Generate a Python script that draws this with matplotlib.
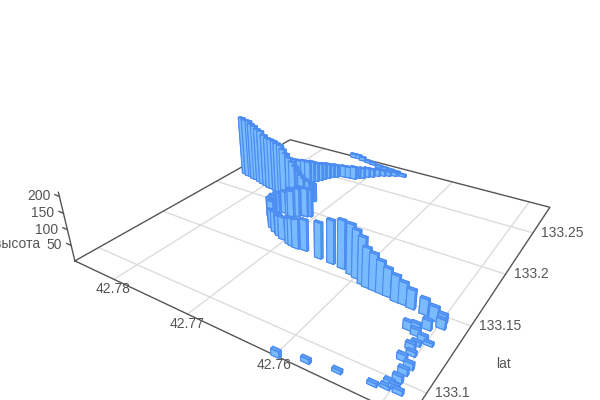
import numpy as np
import matplotlib
matplotlib.use('Agg')
import matplotlib.pyplot as plt
from mpl_toolkits.mplot3d import proj3d

plt.rcParams['font.family'] = ['Liberation Sans', 'DejaVu Sans']

# высота по треку: lon, lat, высота
lon = [42.7843, 42.7836, 42.7830, 42.7824, 42.7819, 42.7812, 42.7805, 42.7798, 42.7791, 42.7786, 42.7779, 42.7773,
       42.7768, 42.7764, 42.7761, 42.7755, 42.7750, 42.7747, 42.7743, 42.7738, 42.7735, 42.7731, 42.7728, 42.7725,
       42.7708, 42.7712, 42.7717, 42.7720, 42.7725, 42.7729, 42.7736, 42.7743, 42.7744, 42.7745, 42.7746, 42.7746,
       42.7738, 42.7728, 42.7720, 42.7714, 42.7711, 42.7704, 42.7692, 42.7692, 42.7687, 42.7681, 42.7671, 42.7650,
       42.7634, 42.7620, 42.7607, 42.7599, 42.7589, 42.7583, 42.7575, 42.7567, 42.7559, 42.7549, 42.7541, 42.7532,
       42.7518, 42.7507, 42.7499, 42.7508, 42.7497, 42.7507, 42.7521, 42.7514, 42.7512, 42.7503, 42.7497, 42.7508,
       42.7506, 42.7504, 42.7508, 42.7499, 42.7500, 42.7500, 42.7504, 42.7494, 42.7499, 42.7599, 42.7574, 42.7546,
       42.7515, 42.7505, 42.7800, 42.7791, 42.7781, 42.7773, 42.7765, 42.7759, 42.7755, 42.7752, 42.7749, 42.7747,
       42.7744, 42.7741, 42.7737, 42.7734, 42.7728, 42.7721, 42.7714, 42.7711, 42.7706, 42.7702, 42.7697, 42.7692,
       42.7686, 42.7680, 42.7673, 42.7668, 42.7662, 42.7748, 42.7740, 42.7732, 42.7722, 42.7713, 42.7702, 42.7692,
       42.7682, 42.7673]
lat = [133.2206, 133.2192, 133.2191, 133.2176, 133.2175, 133.2161, 133.2147, 133.2137, 133.2124, 133.2123, 133.2113, 133.2100,
       133.2099, 133.2097, 133.2107, 133.2094, 133.2093, 133.2103, 133.2102, 133.2101, 133.2111, 133.2110, 133.2120, 133.2130,
       133.1954, 133.1941, 133.1938, 133.1914, 133.1891, 133.1898, 133.1904, 133.1911, 133.1922, 133.1888, 133.1854, 133.1824,
       133.1778, 133.1715, 133.1687, 133.1679, 133.1664, 133.1646, 133.1638, 133.1624, 133.1616, 133.1611, 133.1618, 133.1596,
       133.1590, 133.1581, 133.1558, 133.1544, 133.1514, 133.1503, 133.1500, 133.1497, 133.1494, 133.1479, 133.1479, 133.1472,
       133.1465, 133.1449, 133.1457, 133.1463, 133.1414, 133.1372, 133.1321, 133.1329, 133.1304, 133.1277, 133.1274, 133.1206,
       133.1244, 133.1173, 133.1123, 133.1093, 133.1049, 133.0998, 133.0960, 133.0938, 133.0954, 133.0842, 133.0883, 133.0905,
       133.0922, 133.0936, 133.2408, 133.2383, 133.2359, 133.2349, 133.2338, 133.2340, 133.2355, 133.2382, 133.2410, 133.2438,
       133.2466, 133.2495, 133.2510, 133.2539, 133.2540, 133.2545, 133.2551, 133.2579, 133.2594, 133.2627, 133.2646, 133.2679,
       133.2702, 133.2721, 133.2744, 133.2763, 133.2764, 133.2860, 133.2860, 133.2845, 133.2834, 133.2824, 133.2802, 133.2796,
       133.2790, 133.2784]
height = [207, 206, 206, 201, 197, 192, 192, 183, 179, 178, 178, 177,
          173, 162, 147, 139, 128, 113, 98, 87, 76, 72, 68, 61,
          91, 95, 95, 95, 95, 84, 74, 63, 60, 67, 66, 63,
          69, 61, 68, 67, 67, 74, 77, 87, 90, 96, 99, 114,
          136, 150, 155, 148, 144, 121, 112, 99, 86, 79, 67, 57,
          47, 41, 25, 31, 28, 28, 25, 25, 19, 21, 9, 18,
          12, 12, 18, 18, 18, 18, 15, 12, 12, 18, 12, 9,
          9, 9, 41, 53, 64, 68, 75, 75, 75, 67, 60, 56,
          52, 44, 44, 36, 40, 40, 44, 36, 36, 32, 28, 24,
          20, 16, 12, 8, 8, 13, 13, 13, 8, 8, 8, 8,
          8, 8]

x_ticks = [42.78, 42.77, 42.76]
x_grid = [42.78, 42.77, 42.76, 42.75]
y_ticks = [133.1, 133.15, 133.2, 133.25]
z_ticks = [50, 100, 150, 200]

xmax, xmin = 42.786, 42.7475
ymin, ymax = 133.084, 133.287
ztop = 212
barw, bard = 0.00085, 0.0017

fig = plt.figure(figsize=(6, 4), dpi=100)
a = 2637.06
left, bot = 329.71 - a * 0.095, 400 - 200.89 - a * 0.095
ax = fig.add_axes([left / 600, bot / 400, a * 0.185 / 600, a * 0.185 / 400], projection='3d')
ax.computed_zorder = False
ax.set_axis_off()
ax.set_xlim(xmax, xmin)
ax.set_ylim(ymin, ymax)
ax.set_zlim(0, 210)
ax.view_init(elev=28.646, azim=-57.393)
ax.set_proj_type('persp', focal_length=0.232)
ax.set_box_aspect((1.0085, 1, 0.2092))

# сетка на полу
for v in x_grid:
    ax.plot([v, v], [ymin, ymax], [0, 0], color='#dcdcdc', lw=1, zorder=1, clip_on=False)
for v in y_ticks:
    ax.plot([xmin, xmax], [v, v], [0, 0], color='#dcdcdc', lw=1, zorder=1, clip_on=False)

# рамка и ось высоты
ax.plot([xmax, xmax, xmin, xmin, xmax], [ymin, ymax, ymax, ymin, ymin], [0, 0, 0, 0, 0],
        color='#555555', lw=1, zorder=2, clip_on=False)
ax.plot([xmax, xmax], [ymin, ymin], [0, ztop], color='#555555', lw=1, zorder=2, clip_on=False)
for v in z_ticks:
    ax.plot([xmax, xmax + 0.0007], [ymin, ymin], [v, v], color='#555555', lw=1, zorder=2, clip_on=False)

n = len(lon)
colors = np.tile(['#5f9ff5', '#5f9ff5', '#7abbff', '#7abbff', '#5a9af2', '#5a9af2'], n)
ax.bar3d(np.array(lon) - barw / 2, np.array(lat) - bard / 2, np.zeros(n), barw, bard, height,
         color=colors, edgecolor='#4a8cf0', linewidth=0.8, shade=False, zorder=3)

M = ax.get_proj()

def label(x, y, z, s, dx, dy, ha):
    px, py, _ = proj3d.proj_transform(x, y, z, M)
    ax.annotate(s, xy=(px, py), xycoords='data', xytext=(dx, dy), textcoords='offset pixels',
                ha=ha, va='center', fontsize=10, color='#555555', annotation_clip=False, zorder=5)

for v in x_ticks:
    label(v, ymin, 0, '%.2f' % v, -1, -10, 'center')
for v in y_ticks:
    label(xmin, v, 0, ('%.2f' % v).rstrip('0'), 8, 0, 'left')
label(xmin, 133.12, 0, 'lat', 50, 0, 'left')
for v in z_ticks:
    label(xmax, ymin, v, str(v), -9, 0, 'right')
label(xmax, ymin, 50, 'высота', -31, 1, 'right')

fig.savefig('out.png', dpi=100)
